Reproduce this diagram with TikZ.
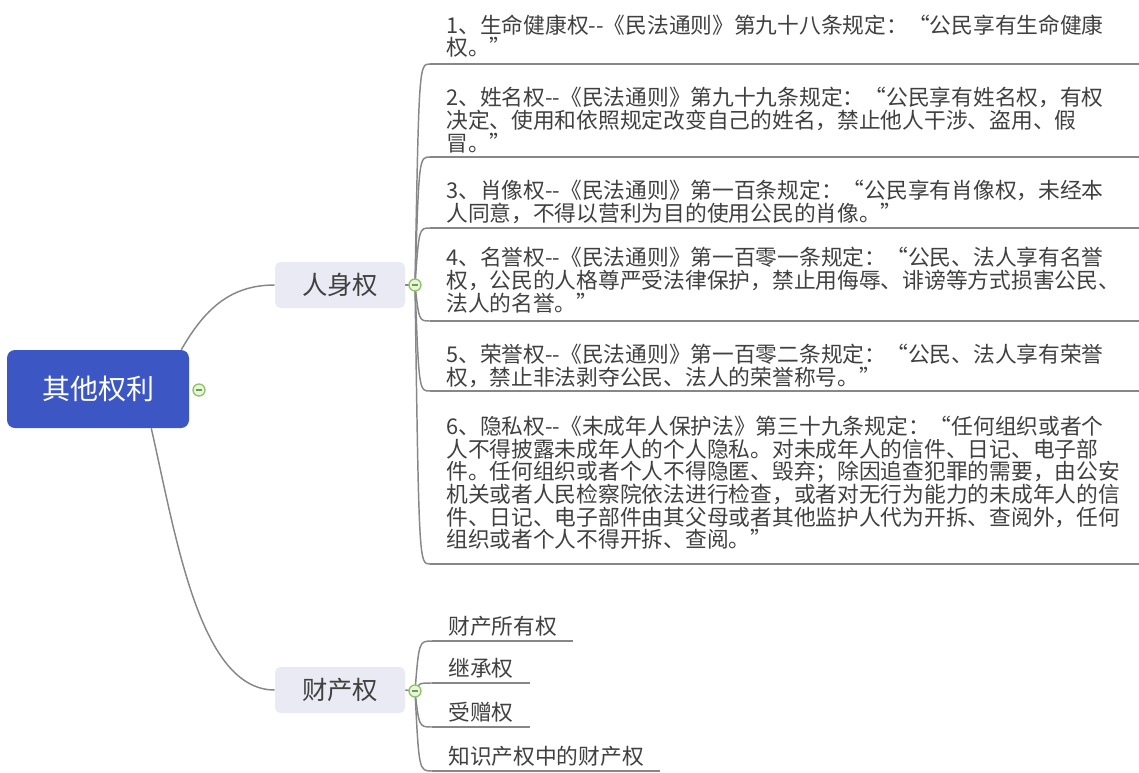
\documentclass[tikz,border=0pt]{standalone}
\usepackage{fontspec}
\setmainfont{Noto Sans CJK SC}
\usetikzlibrary{calc}
\pgfdeclarelayer{bg}
\pgfsetlayers{bg,main}
\definecolor{rootblue}{RGB}{60,86,196}
\definecolor{subfill}{RGB}{233,234,243}
\definecolor{linegray}{RGB}{135,135,135}
\definecolor{txt}{RGB}{64,64,64}
\definecolor{hubgreen}{RGB}{140,195,100}
\definecolor{hubfill}{RGB}{232,244,220}
\begin{document}
\begin{tikzpicture}[x=0.75pt,y=-0.75pt,
 rootbox/.style={fill=rootblue, rounded corners=6pt, minimum width=136.5pt, minimum height=58.5pt, text=white, font=\fontsize{21}{24}\selectfont, inner sep=0pt},
 subbox/.style={fill=subfill, rounded corners=4pt, minimum width=97.5pt, minimum height=34.5pt, text=txt, font=\fontsize{19}{22}\selectfont, inner sep=0pt},
 hub/.style={circle, draw=hubgreen, fill=hubfill, line width=1pt, minimum size=9pt, inner sep=0pt, path picture={\draw[hubgreen!80!black, line width=0.9pt] ([xshift=-2.6pt]path picture bounding box.center) -- ([xshift=2.6pt]path picture bounding box.center);}},
 topic/.style={anchor=south west, align=left, text=txt, font=\fontsize{16.3}{17}\selectfont, inner xsep=12pt, inner ysep=3pt, text width=507.75pt},
 leaf/.style={anchor=south west, align=left, text=txt, font=\fontsize{16.3}{17}\selectfont, inner xsep=12pt, inner ysep=3pt},
 conn/.style={draw=linegray, line width=1.1pt},
 uline/.style={draw=linegray, line width=1.3pt},
]
\useasboundingbox (0,0) rectangle (1139,772);

\node[rootbox] (root) at (98,389) {其他权利};
\node[hub] (h0) at (199,390) {};
\node[subbox] (person) at (340,285) {人身权};
\node[subbox] (property) at (340,690) {财产权};
\node[hub] (h1) at (415,285) {};
\node[hub] (h2) at (415,691) {};

\coordinate (u1) at (430,64);
\coordinate (u2) at (430,157);
\coordinate (u3) at (430,228);
\coordinate (u4) at (430,321);
\coordinate (u5) at (430,391);
\coordinate (u6) at (430,564);

\node[topic] (t1) at (430,62) {1、生命健康权-{}-《民法通则》第九十八条规定：“公民享有生命健康\\权。”};
\node[topic] (t2) at (430,157) {2、姓名权-{}-《民法通则》第九十九条规定：“公民享有姓名权，有权\\决定、使用和依照规定改变自己的姓名，禁止他人干涉、盗用、假\\冒。”};
\node[topic] (t3) at (430,228) {3、肖像权-{}-《民法通则》第一百条规定：“公民享有肖像权，未经本\\人同意，不得以营利为目的使用公民的肖像。”};
\node[topic] (t4) at (430,317) {4、名誉权-{}-《民法通则》第一百零一条规定：“公民、法人享有名誉\\权，公民的人格尊严受法律保护，禁止用侮辱、诽谤等方式损害公民、\\法人的名誉。”};
\node[topic] (t5) at (430,392) {5、荣誉权-{}-《民法通则》第一百零二条规定：“公民、法人享有荣誉\\权，禁止非法剥夺公民、法人的荣誉称号。”};
\node[topic] (t6) at (430,554) {6、隐私权-{}-《未成年人保护法》第三十九条规定：“任何组织或者个\\人不得披露未成年人的个人隐私。对未成年人的信件、日记、电子部\\件。任何组织或者个人不得隐匿、毁弃；除因追查犯罪的需要，由公安\\机关或者人民检察院依法进行检查，或者对无行为能力的未成年人的信\\件、日记、电子部件由其父母或者其他监护人代为开拆、查阅外，任何\\组织或者个人不得开拆、查阅。”};

\node[leaf] (p1) at (432,641) {财产所有权};
\node[leaf] (p2) at (432,683) {继承权};
\node[leaf] (p3) at (432,727) {受赠权};
\node[leaf] (p4) at (432,771) {知识产权中的财产权};

\begin{pgfonlayer}{bg}
\draw[conn] ($(root.north east)+(-8,0)$) .. controls +(23,-40) and +(-45,0) .. (person.west);
\draw[conn] ($(root.south east)+(-38,0)$) .. controls +(25,110) and +(-75,0) .. (property.west);
\draw[conn] (person.east) -- (h1.center);
\draw[conn] (property.east) -- (h2.center);
\foreach \t/\u in {t1/u1,t2/u2,t3/u3,t4/u4,t5/u5,t6/u6}{
  \draw[conn] (h1.center) .. controls ($(h1.center |- \u)+(4,0)$) .. (\u);
  \draw[uline] (\u) -- (\u -| \t.east);
}
\foreach \t in {p1,p2,p3,p4}{
  \draw[conn] (h2.center) .. controls ($(h2.center |- \t.south west)+(4,0)$) .. (\t.south west);
  \draw[uline] (\t.south west) -- (\t.south east);
}
\end{pgfonlayer}
\end{tikzpicture}
\end{document}
